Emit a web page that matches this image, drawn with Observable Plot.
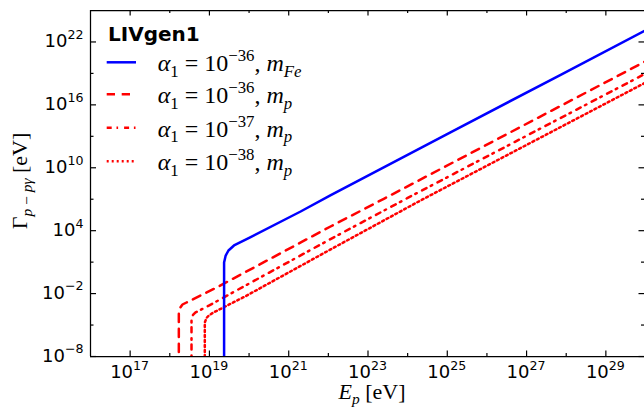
<!DOCTYPE html>
<html>
<head>
<meta charset="utf-8">
<script src="https://cdn.jsdelivr.net/npm/d3@7"></script>
<script src="https://cdn.jsdelivr.net/npm/@observablehq/plot@0.6"></script>
<style>
  body { margin: 0; background: #fff; }
  #chart { position: relative; width: 644px; height: 407px; }
  svg text { white-space: pre; }
</style>
</head>
<body>
<div id="chart"></div>
<script>
// Interaction rate Γ(p → pγ) versus proton energy, LIV generation-1 model.
// Values are log10(E / eV) and log10(Γ / eV).
const logE_Fe36 = [19.37, 19.37, 19.41, 19.48, 19.62, 20.04, 21.30, 22.05, 25.08, 27.86, 30.0];
const logG_Fe36 = [-9, 0.97, 1.63, 2.11, 2.59, 3.38, 5.83, 7.37, 13.38, 18.87, 23.11];

const logE_p36 = [18.228, 18.228, 18.258, 18.321, 18.422, 18.523, 19.196, 22.055, 23.399, 29.958, 30.0];
const logG_p36 = [-9, -3.90, -3.37, -3.04, -2.85, -2.66, -1.39, 4.40, 7.04, 20.07, 20.15];

const logE_p37 = [18.548, 18.548, 18.586, 18.649, 18.775, 18.984, 19.910, 22.055, 23.989, 29.958, 30.0];
const logG_p37 = [-9, -4.37, -4.04, -3.80, -3.56, -3.15, -1.23, 3.20, 7.10, 18.90, 18.98];

const logE_p38 = [18.883, 18.883, 18.926, 18.984, 19.103, 19.363, 19.910, 22.055, 24.325, 29.958, 30.0];
const logG_p38 = [-9, -4.76, -4.33, -4.09, -3.80, -3.30, -2.25, 2.21, 6.88, 18.04, 18.12];

// Legend entries: α1 exponent and particle mass label
const alphaExp = ["−36", "−36", "−37", "−38"];
const massSub = ["Fe", "p", "p", "p"];
const legendTitle = "LIVgen1";

// Tick positions
const xMajor = [1e17, 1e19, 1e21, 1e23, 1e25, 1e27, 1e29];
const xMinor = [1e18, 1e20, 1e22, 1e24, 1e26, 1e28];
const yMajor = [1e-8, 1e-2, 1e4, 1e10, 1e16, 1e22];
const yMinor = [1e-5, 1e1, 1e7, 1e13, 1e19];

// Styles per series
const styles = [
  {stroke: "#0000ff", dash: null},
  {stroke: "#ff0000", dash: "8.3,6.7"},
  {stroke: "#ff0000", dash: "5,4.8,1.6,6"},
  {stroke: "#ff0000", dash: "2,3"}
];

const series = [
  [logE_Fe36, logG_Fe36],
  [logE_p36, logG_p36],
  [logE_p37, logG_p37],
  [logE_p38, logG_p38]
].map(([le, lg]) => le.map((e, i) => ({E: 10 ** e, G: 10 ** lg[i]})));

const W = 644, H = 407;
const mL = 90, mR = 0, mT = 10, mB = 51;
const fw = W - mL - mR, fh = H - mT - mB;
const major = 5.5, minor = 3;
const tickStyle = {stroke: "#000", strokeWidth: 1.2};

const chart = Plot.plot({
  width: W, height: H,
  marginLeft: mL, marginRight: mR, marginTop: mT, marginBottom: mB,
  x: {type: "log", domain: [1e16, 1e30], range: [mL, 645], axis: null},
  y: {type: "log", domain: [1e-8, 1e25], axis: null},
  style: {background: "#fff", fontFamily: "DejaVu Sans"},
  marks: [
    ...series.slice().reverse().map((d, j) => {
      const s = styles[series.length - 1 - j];
      return Plot.line(d, {
        x: "E", y: "G", stroke: s.stroke, strokeWidth: 2.5,
        strokeDasharray: s.dash, clip: true, curve: "linear"
      });
    }),
    // inward ticks on all four sides
    Plot.tickX(xMajor, {x: d => d, insetTop: fh - major, ...tickStyle}),
    Plot.tickX(xMinor, {x: d => d, insetTop: fh - minor, ...tickStyle}),
    Plot.tickX(xMajor, {x: d => d, insetBottom: fh - major, ...tickStyle}),
    Plot.tickX(xMinor, {x: d => d, insetBottom: fh - minor, ...tickStyle}),
    Plot.tickY(yMajor, {y: d => d, insetRight: fw - major - 0.5, ...tickStyle}),
    Plot.tickY(yMinor, {y: d => d, insetRight: fw - minor - 0.5, ...tickStyle}),
    Plot.tickY(yMajor, {y: d => d, insetLeft: fw - major, ...tickStyle}),
    Plot.tickY(yMinor, {y: d => d, insetLeft: fw - minor, ...tickStyle}),
    // axes spines
    Plot.ruleX([1e16, 1e30], {stroke: "#000", strokeWidth: 1.25}),
    Plot.ruleY([1e-8, 1e25], {stroke: "#000", strokeWidth: 1.25})
  ]
});

document.getElementById("chart").appendChild(chart);

const xs = chart.scale("x"), ys = chart.scale("y");
const svg = d3.select(chart);
const SERIF = "Liberation Serif";

// text with sub/superscript runs
function mathText(g, x, y, parts, size, opts = {}) {
  const t = g.append("text")
    .attr("x", x).attr("y", y)
    .attr("font-size", size)
    .attr("font-family", opts.family || SERIF)
    .attr("text-anchor", opts.anchor || "start")
    .attr("fill", "#000");
  if (opts.weight) t.attr("font-weight", opts.weight);
  if (opts.transform) t.attr("transform", opts.transform);
  let shift = 0;
  for (const p of parts) {
    const s = t.append("tspan").text(p.t);
    const target = p.sup ? -size * (opts.supRaise || 0.42) : p.sub ? size * 0.22 : 0;
    if (target !== shift) s.attr("dy", target - shift);
    shift = target;
    if (p.sup || p.sub) s.attr("font-size", size * (opts.scriptScale || 0.7));
    if (p.i) s.attr("font-style", "italic");
  }
  return t;
}

const expo = v => {
  const n = Math.round(Math.log10(v));
  return n < 0 ? "−" + (-n) : String(n);
};

// tick labels
const labels = svg.append("g").attr("class", "tick-labels");
for (const v of xMajor) {
  mathText(labels, xs.apply(v), 378, [{t: "10"}, {t: expo(v), sup: true}], 18,
    {family: "DejaVu Sans", anchor: "middle", supRaise: 0.45});
}
for (const v of yMajor) {
  mathText(labels, 83.5, ys.apply(v) + 5.5, [{t: "10"}, {t: expo(v), sup: true}], 18,
    {family: "DejaVu Sans", anchor: "end", supRaise: 0.45});
}

// axis titles
mathText(svg, 372, 399, [{t: "E", i: true}, {t: "p", sub: true, i: true}, {t: " [eV]"}], 22,
  {anchor: "middle"});
mathText(svg, 0, 0, [{t: "Γ"}, {t: "p\u2009−\u2009p", sub: true, i: true}, {t: "γ", sub: true, i: true}, {t: " [eV]"}], 22,
  {anchor: "middle", transform: "translate(27,181) rotate(-90)"});

// legend
const lg = svg.append("g").attr("class", "legend").attr("text-anchor", "start");
lg.append("text").attr("x", 108).attr("y", 40.5)
  .attr("text-anchor", "start")
  .attr("font-family", "DejaVu Sans").attr("font-weight", "bold")
  .attr("font-size", 20).attr("fill", "#000").text(legendTitle);
const rowY = [62.3, 94.3, 127.7, 161.3];
styles.forEach((s, i) => {
  lg.append("line").attr("x1", 106.7).attr("x2", 136).attr("y1", rowY[i]).attr("y2", rowY[i])
    .attr("stroke", s.stroke).attr("stroke-width", 2.5)
    .attr("stroke-dasharray", s.dash);
  mathText(lg, 157.7, rowY[i] + 9,
    [{t: "α", i: true}, {t: "1", sub: true}, {t: " = 10"}, {t: alphaExp[i], sup: true},
     {t: ", "}, {t: "m", i: true}, {t: massSub[i], sub: true, i: true}], 24);
});
</script>
</body>
</html>
